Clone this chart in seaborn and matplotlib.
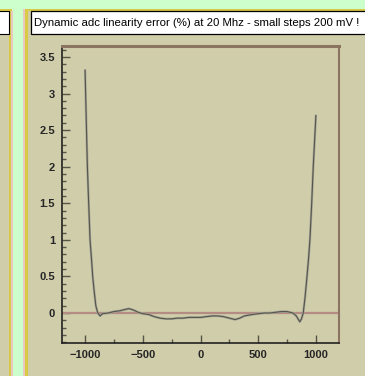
import numpy as np
import pandas as pd
import matplotlib
matplotlib.use("Agg")
import matplotlib.pyplot as plt
import seaborn as sns
from matplotlib.patches import Rectangle
from matplotlib.ticker import MultipleLocator

# -----------------------------
# Data
# -----------------------------

input_mv = [-1000, -990, -980, -970, -957, -945, -934, -920, -907, -890,
            -870, -850, -800, -750, -700, -650, -620, -580, -540, -500,
            -450, -400, -350, -300, -250, -200, -150, -100, -50, 0,
            50, 100, 150, 200, 250, 300, 340, 380, 450, 500,
            550, 600, 650, 700, 750, 800, 830, 860, 875, 890,
            905, 920, 935, 948, 962, 977, 990, 1000]

lin_error = [3.32, 2.65, 2.0, 1.55, 1.0, 0.75, 0.5, 0.28, 0.1, 0.0,
             -0.04, -0.01, 0.0, 0.02, 0.03, 0.05, 0.06, 0.04, 0.01, -0.01,
             -0.02, -0.05, -0.07, -0.08, -0.08, -0.07, -0.07, -0.06, -0.06, -0.06,
             -0.05, -0.04, -0.04, -0.05, -0.07, -0.09, -0.07, -0.04, -0.02, -0.01,
             0.0, 0.0, 0.01, 0.02, 0.02, 0.0, -0.04, -0.12, -0.08, 0.0,
             0.2, 0.45, 0.72, 1.0, 1.45, 2.0, 2.4, 2.7]

x_ticks = [-1000, -500, 0, 500, 1000]
y_ticks = [0, 0.5, 1, 1.5, 2, 2.5, 3, 3.5]
y_tick_labels = ["0", "0.5", "1", "1.5", "2", "2.5", "3", "3.5"]

title_text = "Dynamic adc linearity error (%) at 20 Mhz - small steps 200 mV !"

df = pd.DataFrame({"mv": input_mv, "err": lin_error})

# -----------------------------
# Styling
# -----------------------------

sns.set_style("white")
plt.rcParams["font.family"] = ["Liberation Sans", "DejaVu Sans"]

BEIGE = "#d0cdaa"
GREEN = "#ccffcc"
YELLOW = "#d9c945"
PINK = "#e8c8c0"

W, H = 365, 376
fig = plt.figure(figsize=(W / 100, H / 100), dpi=100)
fig.patch.set_facecolor(GREEN)


def px_rect(x0, y0, x1, y1, z=-10, **kw):
    # pixel box (y from top) -> figure fraction rectangle
    r = Rectangle((x0 / W, 1 - y1 / H), (x1 - x0) / W, (y1 - y0) / H,
                  transform=fig.transFigure, zorder=z, **kw)
    fig.add_artist(r)
    return r


# -----------------------------
# Panel frames
# -----------------------------

# left (cut-off) panel
px_rect(-5, 9, 12, 380, facecolor=YELLOW, edgecolor="none")
px_rect(-5, 11, 9, 380, z=-9, facecolor=BEIGE, edgecolor="none")
px_rect(11, 11, 13, 380, z=-9, facecolor=PINK, edgecolor="none")
px_rect(-5, 11, 9, 34, z=-8, facecolor="white", edgecolor="black",
        linewidth=0.8)

# right panel
px_rect(23, 9, 370, 380, facecolor=PINK, edgecolor="none")
px_rect(25, 9, 370, 380, z=-9, facecolor=YELLOW, edgecolor="none")
px_rect(28, 11, 370, 380, z=-8, facecolor=BEIGE, edgecolor="none")
px_rect(31, 11, 370, 34, z=-7, facecolor="white", edgecolor="black",
        linewidth=0.9)

fig.text(34 / W, 1 - 23 / H, title_text, fontsize=8.2, va="center",
         ha="left", color="black")

# -----------------------------
# Plot
# -----------------------------

ax = fig.add_axes([62 / W, 33 / H, 277 / W, 297 / H])
ax.set_facecolor(BEIGE)

ax.axhline(0, color="#b48c84", linewidth=1.6, zorder=1)

sns.lineplot(data=df, x="mv", y="err", ax=ax, color="#a4a496",
             linewidth=1.7, zorder=2)
sns.lineplot(data=df, x="mv", y="err", ax=ax, color="#55554c",
             linewidth=0.8, zorder=3)

ax.set_xlim(-1200, 1200)
ax.set_ylim(-0.41, 3.65)

ax.set_xticks(x_ticks)
ax.set_yticks(y_ticks)
ax.set_yticklabels(y_tick_labels)
ax.xaxis.set_minor_locator(MultipleLocator(250))
ax.yaxis.set_minor_locator(MultipleLocator(0.1))

ax.tick_params(which="major", direction="in", length=6, width=1.0,
               color="#555548", labelsize=8, pad=5)
ax.tick_params(which="minor", direction="in", length=3, width=1.0,
               color="#555548")
ax.tick_params(axis="y", which="both", left=True)
ax.tick_params(axis="x", which="both", bottom=True)
for lab in ax.get_xticklabels() + ax.get_yticklabels():
    lab.set_fontweight("bold")

ax.set_xlabel("")
ax.set_ylabel("")

ax.spines["left"].set_color("#222222")
ax.spines["bottom"].set_color("#222222")
ax.spines["left"].set_linewidth(1.2)
ax.spines["bottom"].set_linewidth(1.2)
ax.spines["top"].set_color("#8c7560")
ax.spines["top"].set_linewidth(2.2)
ax.spines["right"].set_color("#8c7560")
ax.spines["right"].set_linewidth(1.5)

plt.savefig("out.png", dpi=100, facecolor=fig.get_facecolor())
plt.close()
